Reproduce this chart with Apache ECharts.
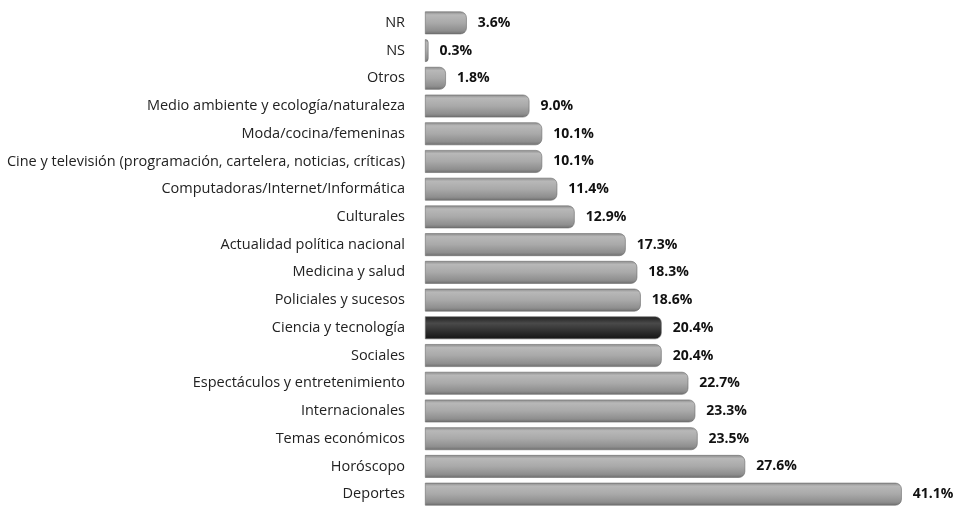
<!DOCTYPE html>
<html>
<head>
<meta charset="utf-8">
<style>
html, body { margin: 0; padding: 0; background: #fff; }
#chart { width: 958px; height: 508px; }
</style>
</head>
<body>
<div id="chart"></div>
<script src="https://cdn.jsdelivr.net/npm/echarts@6/dist/echarts.min.js"></script>
<script>
// categorias de arriba hacia abajo
var categories = ['NR', 'NS', 'Otros', 'Medio ambiente y ecología/naturaleza', 'Moda/cocina/femeninas',
  'Cine y televisión (programación, cartelera, noticias, críticas)', 'Computadoras/Internet/Informática',
  'Culturales', 'Actualidad política nacional', 'Medicina y salud', 'Policiales y sucesos',
  'Ciencia y tecnología', 'Sociales', 'Espectáculos y entretenimiento', 'Internacionales',
  'Temas económicos', 'Horóscopo', 'Deportes'];
var values = [3.6, 0.3, 1.8, 9.0, 10.1, 10.1, 11.4, 12.9, 17.3, 18.3, 18.6, 20.4, 20.4, 22.7, 23.3, 23.5, 27.6, 41.1];
var highlight = 'Ciencia y tecnología';

var grayFill = new echarts.graphic.LinearGradient(0, 0, 0, 1, [
  { offset: 0, color: '#8a8a8a' },
  { offset: 0.15, color: '#b8b8b8' },
  { offset: 0.5, color: '#a9a9a9' },
  { offset: 0.85, color: '#8e8e8e' },
  { offset: 1, color: '#6e6e6e' }
]);
var darkFill = new echarts.graphic.LinearGradient(0, 0, 0, 1, [
  { offset: 0, color: '#1e1e1e' },
  { offset: 0.3, color: '#4a4a4a' },
  { offset: 0.6, color: '#333333' },
  { offset: 1, color: '#141414' }
]);

var data = values.map(function (v, i) {
  return {
    value: v,
    itemStyle: { color: categories[i] === highlight ? darkFill : grayFill }
  };
});

var chart = echarts.init(document.getElementById('chart'));
chart.setOption({
  animation: false,
  grid: { left: 425, right: 11, top: 9, bottom: 0, containLabel: false },
  xAxis: {
    type: 'value', min: 0, max: 45,
    show: false
  },
  yAxis: {
    type: 'category', inverse: true, data: categories,
    axisLine: { show: false }, axisTick: { show: false },
    axisLabel: { margin: 20, color: '#222', fontSize: 14.5, fontFamily: 'Open Sans' }
  },
  series: [{
    type: 'bar',
    data: data,
    barCategoryGap: '18%',
    itemStyle: { borderRadius: [0, 6, 6, 0], borderColor: '#6a6a6a', borderWidth: 0.6 },
    label: {
      show: true, position: 'right', distance: 11,
      formatter: function (p) { return p.value.toFixed(1) + '%'; },
      color: '#111', fontWeight: 'bold', fontSize: 14, fontFamily: 'Open Sans'
    }
  }]
});
</script>
</body>
</html>
